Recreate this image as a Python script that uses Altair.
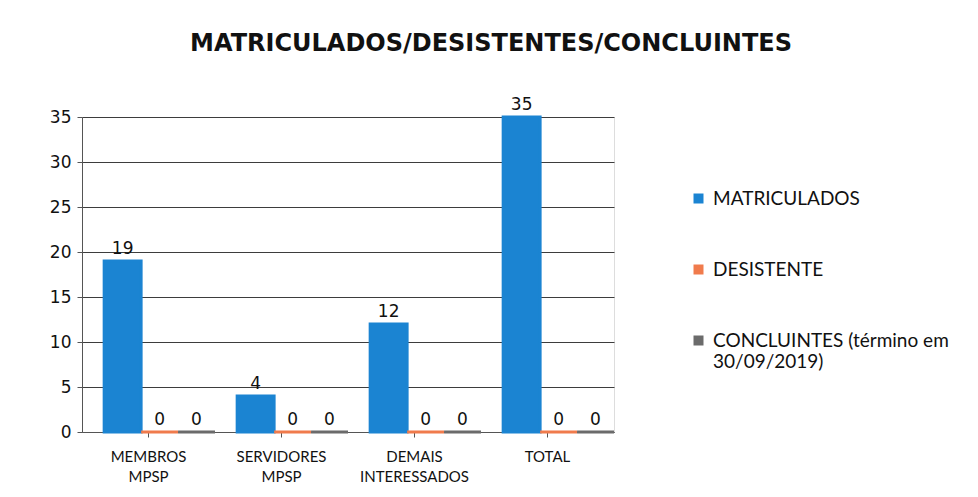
import altair as alt
import pandas as pd

categories = ["MEMBROS MPSP", "SERVIDORES MPSP", "DEMAIS INTERESSADOS", "TOTAL"]
series = ["MATRICULADOS", "DESISTENTE", "CONCLUINTES (término em 30/09/2019)"]
matriculados = [19, 4, 12, 35]
desistente = [0, 0, 0, 0]
concluintes = [0, 0, 0, 0]
colors = ["#1b84d2", "#f07b4c", "#6b6b6b"]

rows = []
for i, c in enumerate(categories):
    for s, vals in zip(series, [matriculados, desistente, concluintes]):
        rows.append({"categoria": c, "serie": s, "valor": vals[i]})
df = pd.DataFrame(rows)

color = alt.Color(
    "serie:N",
    scale=alt.Scale(domain=series, range=colors),
    legend=alt.Legend(
        title=None,
        orient="none",
        legendX=607,
        legendY=72,
        symbolType="square",
        symbolSize=100,
        symbolStrokeWidth=0,
        labelFont="Lato",
        labelFontSize=19,
        labelColor="#111111",
        labelLimit=400,
        rowPadding=51,
        labelOffset=5,
        labelExpr="datum.label == 'CONCLUINTES (término em 30/09/2019)' ? ['CONCLUINTES (término em', '30/09/2019)'] : datum.label",
    ),
)

x = alt.X(
    "categoria:N",
    sort=categories,
    scale=alt.Scale(paddingInner=0, paddingOuter=0),
    axis=alt.Axis(
        title=None,
        labelAngle=0,
        labelFont="Lato",
        labelFontSize=15,
        labelLineHeight=20,
        labelColor="#111111",
        labelPadding=12,
        labelExpr="split(datum.label, ' ')",
        domainColor="#555555",
        tickColor="#555555",
        tickSize=5,
    ),
)
xoff = alt.XOffset(
    "serie:N",
    sort=series,
    scale=alt.Scale(domain=series, paddingInner=0, paddingOuter=0.3, align=1),
)
y = alt.Y(
    "valor:Q",
    scale=alt.Scale(domain=[0, 35]),
    axis=alt.Axis(
        title=None,
        values=[0, 5, 10, 15, 20, 25, 30, 35],
        labelFont="DejaVu Sans",
        labelFontSize=17,
        labelColor="#111111",
        labelPadding=6,
        tickSize=5,
        tickColor="#555555",
        domainColor="#555555",
        gridColor="#3d3d3d",
        gridWidth=1,
    ),
)

base = alt.Chart(df).encode(x=x, xOffset=xoff, y=y)

bars = base.mark_bar(strokeWidth=3, strokeOpacity=1).encode(
    color=color,
    stroke=alt.Stroke("serie:N", scale=alt.Scale(domain=series, range=colors), legend=None),
)
labels = base.mark_text(
    dy=-12, font="DejaVu Sans", fontSize=17, color="#111111"
).encode(text="valor:Q")

chart = (
    alt.layer(bars, labels)
    .properties(
        width=532,
        height=315,
        autosize=alt.AutoSizeParams(type="none"),
        padding={"left": 74, "top": 109, "right": 356, "bottom": 57},
        title=alt.TitleParams(
            "MATRICULADOS/DESISTENTES/CONCLUINTES",
            font="DejaVu Sans",
            fontSize=24,
            fontWeight="bold",
            color="#111111",
            anchor="middle",
            dx=143,
            offset=40,
        ),
    )
    .configure_view(stroke=None)
    .configure(background="#ffffff")
)

chart.save("out.html", embed_options={"renderer": "svg", "actions": False})
